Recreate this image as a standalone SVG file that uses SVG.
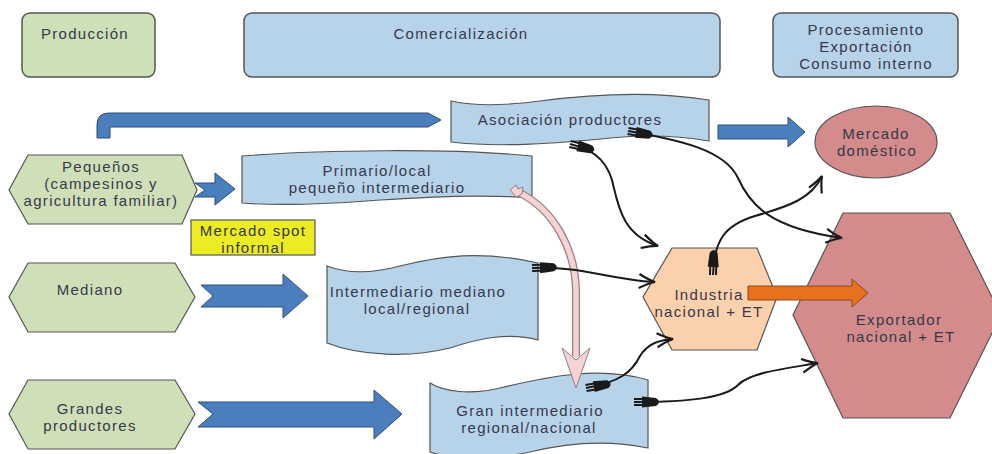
<svg xmlns="http://www.w3.org/2000/svg" width="992" height="454" viewBox="0 0 992 454">
<style>
  text { font-family: "Liberation Sans", Arial, sans-serif; font-size: 15px; letter-spacing: 1.3px; fill: #38384a; text-anchor: middle; }
  .hdr-g { fill: #cde0b7; stroke: #555; stroke-width: 1.5; }
  .hdr-b { fill: #b7d3ea; stroke: #555; stroke-width: 1.5; }
  .hexg { fill: #cfe0b9; stroke: #555; stroke-width: 1.2; }
  .banner { fill: #b7d3ea; stroke: #555; stroke-width: 1.2; }
  .barrow { fill: #4a7ebd; stroke: #2e4d78; stroke-width: 1; }
  .conn { fill: none; stroke: #1a1a1a; stroke-width: 2; marker-start: url(#plug); marker-end: url(#ah); }
</style>
<defs>
  <marker id="ah" markerUnits="userSpaceOnUse" viewBox="-18 -9 20 18" refX="0" refY="0" markerWidth="20" markerHeight="18" orient="auto" overflow="visible">
    <path d="M-16,-7 Q-6,-1.5 0,0 Q-6,1.5 -16,7" fill="none" stroke="#1a1a1a" stroke-width="2.2"/>
  </marker>
  <marker id="plug" markerUnits="userSpaceOnUse" viewBox="-2 -8 32 16" refX="0" refY="0" markerWidth="32" markerHeight="16" orient="auto" overflow="visible">
    <path d="M0,-3 L9,-3 M0,3 L9,3" stroke="#1a1a1a" stroke-width="2"/>
    <path d="M8,-5.5 L22,-4 Q28,0 22,4 L8,5.5 Z" fill="#1a1a1a"/>
  </marker>
</defs>

<g id="hdr-produccion">
  <rect class="hdr-g" x="22" y="13" width="133" height="64" rx="8"/>
  <text x="85" y="39">Producción</text>
</g>
<g id="hdr-comercializacion">
  <rect class="hdr-b" x="244" y="13" width="476" height="64" rx="8"/>
  <text x="461" y="39">Comercialización</text>
</g>
<g id="hdr-procesamiento">
  <rect class="hdr-b" x="773" y="13" width="185" height="64" rx="8"/>
  <text x="866" y="35">Procesamiento</text>
  <text x="866" y="52">Exportación</text>
  <text x="866" y="69">Consumo interno</text>
</g>

<g id="pequenos">
  <polygon class="hexg" points="9,190 28,155 182,155 197,190 182,224 28,224"/>
  <text x="101" y="172">Pequeños</text>
  <text x="101" y="189">(campesinos y</text>
  <text x="101" y="206">agricultura familiar)</text>
</g>
<g id="mediano">
  <polygon class="hexg" points="9,297 28,263 175,263 195,297 175,332 28,332"/>
  <text x="90" y="295">Mediano</text>
</g>
<g id="grandes">
  <polygon class="hexg" points="9,414 28,380 175,380 195,414 175,449 28,449"/>
  <text x="90" y="414">Grandes</text>
  <text x="90" y="431">productores</text>
</g>

<g id="mercado-spot">
  <rect x="191" y="220" width="124" height="35" fill="#ecec24" stroke="#555" stroke-width="1.2"/>
  <text x="253" y="236">Mercado spot</text>
  <text x="253" y="253">informal</text>
</g>

<g id="asociacion">
  <path class="banner" d="M451,101 C475,106 500,106 540,101 C600,93 660,92 709,100 L709,141 C680,136 650,134 610,138 C560,143 500,148 451,142 Z"/>
  <text x="570" y="125">Asociación productores</text>
</g>
<g id="primario">
  <path class="banner" d="M242,156 C320,150 450,148 532,156 L532,198 C480,194 430,197 380,200 C330,204 280,206 242,203 Z"/>
  <text x="377" y="176">Primario/local</text>
  <text x="377" y="193">pequeño intermediario</text>
</g>
<g id="intermediario-mediano">
  <path class="banner" d="M327,266 C345,273 370,274 400,266 C440,256 480,250 538,263 L538,340 C510,332 480,338 450,348 C410,358 360,356 327,343 Z"/>
  <text x="418" y="297">Intermediario mediano</text>
  <text x="417" y="314">local/regional</text>
</g>
<g id="gran-intermediario">
  <path class="banner" d="M430,383 C445,392 470,395 500,388 C550,376 600,366 648,380 L648,448 C610,440 570,442 530,452 C490,460 455,460 430,452 Z"/>
  <text x="530" y="416">Gran intermediario</text>
  <text x="529" y="433">regional/nacional</text>
</g>

<g id="mercado-domestico">
  <ellipse cx="876" cy="142" rx="61" ry="36" fill="#d38b8b" stroke="#555" stroke-width="1.2"/>
  <text x="876" y="139">Mercado</text>
  <text x="877" y="156">doméstico</text>
</g>
<g id="exportador">
  <polygon points="793,315 843,213 950,213 1001,315 950,418 843,418" fill="#d38b8b" stroke="#555" stroke-width="1.2"/>
  <text x="899" y="325">Exportador</text>
  <text x="901" y="342">nacional + ET</text>
</g>
<g id="industria">
  <polygon points="643,297 672,248 757,248 777,297 757,350 672,350" fill="#fbd0ac" stroke="#555" stroke-width="1.2"/>
  <text x="709" y="300">Industria</text>
  <text x="709" y="317">nacional + ET</text>
</g>

<g id="connectors">
  <path class="barrow" d="M97,138 L97,125 Q97,113 109,113 L428,113 L441,120 L428,127 L110,127 L110,138 Z"/>
  <polygon class="barrow" points="195,183 215,183 215,173 235,189 215,205 215,197 195,197 205,190"/>
  <polygon class="barrow" points="201,285 283,285 283,274 308,296 283,318 283,307 201,307 213,296"/>
  <polygon class="barrow" points="198,402 374,402 374,390 402,414 374,439 374,427 198,427 213,414"/>
  <polygon class="barrow" points="718,125 788,125 788,117 805,132 788,147 788,139 718,139"/>
  <polygon points="748,286 852,286 852,279 868,293 852,307 852,300 748,300" fill="#e8711f" stroke="#8a4a1a" stroke-width="1"/>

  <path d="M518,192 C555,210 575,250 576,290 L576,356" fill="none" stroke="#9a7f80" stroke-width="8"/>
  <path d="M518,192 C555,210 575,250 576,290 L576,357" fill="none" stroke="#f3d3d3" stroke-width="5.5"/>
  <path d="M510,190 L516,185 L518,189 L523,187 L522,194 L516,197 Z" fill="#f3d3d3" stroke="#9a7f80" stroke-width="1"/>
  <polygon points="562,348 576,360 590,348 576,388" fill="#f3d3d3" stroke="#9a7f80" stroke-width="1"/>

  <path class="conn" d="M570,144 C590,149 605,157 612,180 C618,205 622,235 658,246"/>
  <path class="conn" d="M628,131 C680,140 725,150 738,178 C750,205 770,228 842,238"/>
  <path class="conn" d="M532,268 C585,266 605,279 655,282"/>
  <path class="conn" d="M713,275 C714,240 725,225 755,216 C790,206 812,198 822,176"/>
  <path class="conn" d="M586,388 C620,382 632,372 640,356 C648,343 660,340 673,339"/>
  <path class="conn" d="M634,402 C690,402 725,398 738,385 C750,372 790,368 818,363"/>
</g>
</svg>
